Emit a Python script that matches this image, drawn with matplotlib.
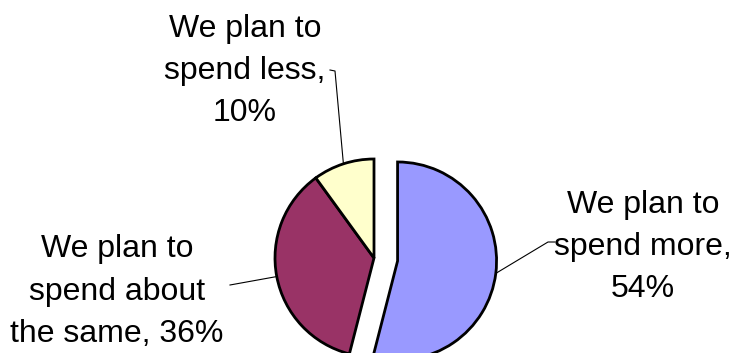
import matplotlib.pyplot as plt
import numpy as np

labels = ["We plan to\nspend more,\n54%", "We plan to\nspend about\nthe same, 36%", "We plan to\nspend less,\n10%"]
values = [54, 36, 10]
colors = ["#9999FF", "#993366", "#FFFFCC"]
explode = [0.24, 0, 0]

W, H = 731, 353
R = 99
fig = plt.figure(figsize=(W / 100, H / 100), dpi=100)
ax = fig.add_axes([0, 0, 1, 1])

# pie explode is in data units, so scale by radius
wedges, _ = ax.pie(values, colors=colors, explode=[e * R for e in explode],
                   startangle=90, counterclock=False,
                   center=(374, H - 258), radius=R,
                   wedgeprops=dict(edgecolor="black", linewidth=2))
ax.set_xlim(0, W)
ax.set_ylim(0, H)
ax.set_aspect("equal")
ax.axis("off")

# label text position (center x, top y in pixels from top) and leader line elbow
text_pos = [(643, 189.5), (117, 234.5), (245, 13.5)]
elbows = [[(555, 242), (548, 242)], [(230, 285)], [(330, 70), (335, 71)]]

for w, lab, (tx, ty), elb in zip(wedges, labels, text_pos, elbows):
    mid = np.deg2rad((w.theta1 + w.theta2) / 2)
    cx, cy = w.center
    ax_pt = (cx + w.r * np.cos(mid), cy + w.r * np.sin(mid))
    pts = [(x, H - y) for x, y in elb] + [ax_pt]
    xs, ys = zip(*pts)
    ax.plot(xs, ys, color="black", lw=0.8, clip_on=False)
    ax.text(tx, H - ty, lab, ha="center", va="top", fontsize=23,
            family="Liberation Sans", linespacing=1.54)

fig.savefig("out.png", dpi=100)
